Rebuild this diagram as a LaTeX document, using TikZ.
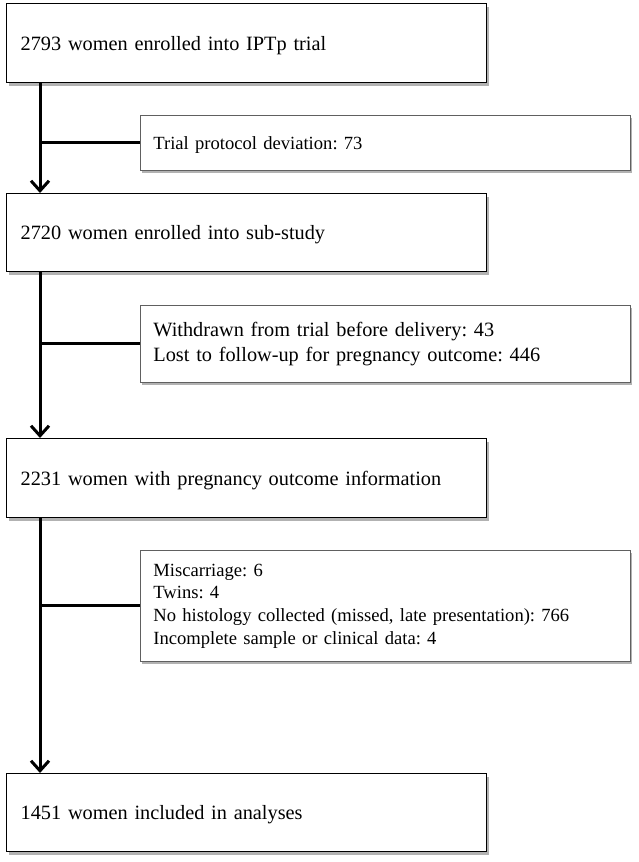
\documentclass[tikz,border=0pt]{standalone}
\usepackage{fontspec}
\setmainfont{Liberation Serif}
\usetikzlibrary{arrows.meta,shadows}
\frenchspacing
\begin{document}
\begin{tikzpicture}[x=1pt,y=-1pt,
  mainbox/.style={draw=black, line width=1.3pt, fill=white,
    drop shadow={shadow xshift=2pt, shadow yshift=-3pt, fill=black, opacity=0.3},
    text width=452pt, inner xsep=14pt, inner ysep=0pt, align=left, text depth=0pt,
    font=\fontsize{20.3}{25}\selectfont, anchor=north west},
  sidebox/.style={draw=gray!75!black, line width=0.8pt, fill=white,
    drop shadow={shadow xshift=2pt, shadow yshift=-3pt, fill=black, opacity=0.3},
    text width=464pt, inner xsep=13pt, inner ysep=0pt, align=left,
    font=\fontsize{20.3}{25.5}\selectfont, anchor=north west},
  oneline/.style={text depth=0pt},
  small/.style={font=\fontsize{18.6}{22.7}\selectfont},
  conn/.style={line width=3pt, draw=black},
  arr/.style={conn, -{Straight Barb[length=10pt,width=18pt,line width=3pt]}}
]
\useasboundingbox (0,0) rectangle (638,862);

\node[mainbox, minimum height=79pt] (b1) at (6,3) {2793 women enrolled into IPTp trial};
\node[sidebox, small, oneline, minimum height=55pt] (s1) at (140,115) {Trial protocol deviation: 73};
\node[mainbox, minimum height=78pt] (b2) at (6,193) {2720 women enrolled into sub-study};
\node[sidebox, minimum height=77pt] (s2) at (140,305) {Withdrawn from trial before delivery: 43\\Lost to follow-up for pregnancy outcome: 446};
\node[mainbox, minimum height=79pt] (b3) at (6,438) {2231 women with pregnancy outcome information};
\node[sidebox, small, minimum height=111pt] (s3) at (140,550) {Miscarriage: 6\\Twins: 4\\No histology collected (missed, late presentation): 766\\Incomplete sample or clinical data: 4};
\node[mainbox, minimum height=78pt] (b4) at (6,773) {1451 women included in analyses};

\coordinate (v1) at ([xshift=34pt]b1.south west);
\coordinate (v2) at ([xshift=34pt]b2.south west);
\coordinate (v3) at ([xshift=34pt]b3.south west);

\draw[arr] (v1) -- ([xshift=34pt]b2.north west);
\draw[conn] (v1 |- s1.west) -- (s1.west);
\draw[arr] (v2) -- ([xshift=34pt]b3.north west);
\draw[conn] (v2 |- s2.west) -- (s2.west);
\draw[arr] (v3) -- ([xshift=34pt]b4.north west);
\draw[conn] (v3 |- s3.west) -- (s3.west);
\end{tikzpicture}
\end{document}
